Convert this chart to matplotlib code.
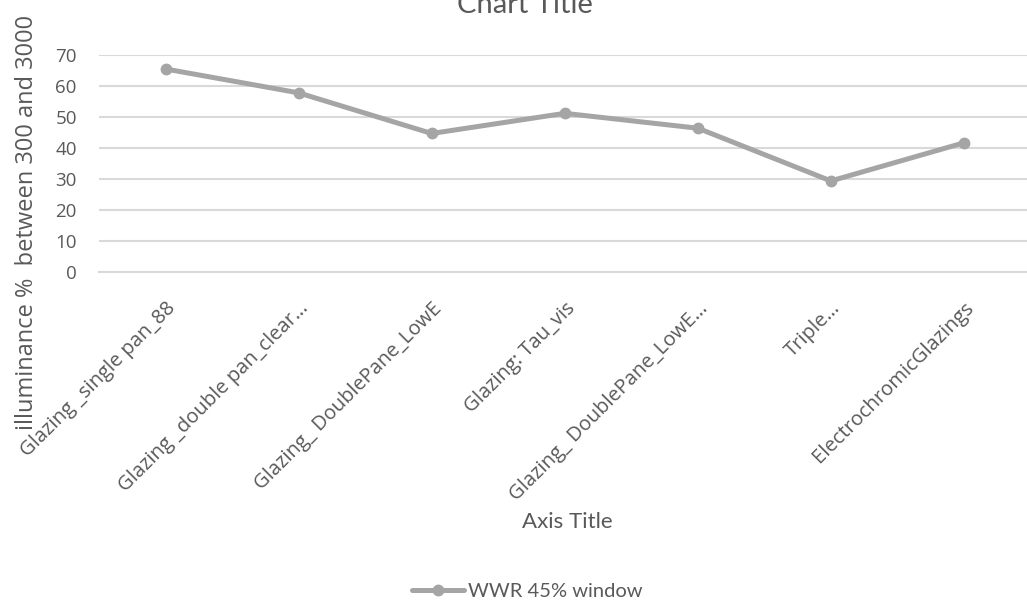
import matplotlib.pyplot as plt

# chart data
categories = ['Glazing _single pan_88', 'Glazing _double pan_clear…', 'Glazing_ DoublePane_LowE',
              'Glazing: Tau_vis', 'Glazing_ DoublePane_LowE…', 'Triple…', 'ElectrochromicGlazings']
wwr45 = [65.5, 57.8, 44.7, 51.2, 46.4, 29.4, 41.7]
yTicks = [0, 10, 20, 30, 40, 50, 60, 70]

seriesName = 'WWR 45% window'
lineColor = '#A5A5A5'
gridColor = '#D9D9D9'
textColor = '#595959'
tickFont = ['Open Sans', 'DejaVu Sans']
excelFont = ['Lato', 'DejaVu Sans']

fig = plt.figure(figsize=(10.27, 6.02), dpi=100, facecolor='white')
ax = fig.add_axes([0.0964, 0.548, 0.907, 0.3606])

xPos = list(range(len(categories)))
ax.plot(xPos, wwr45, color=lineColor, linewidth=3.6, marker='o', markersize=7.5,
        solid_capstyle='round', label=seriesName, zorder=3)

ax.set_xlim(-0.5, len(categories) - 0.5)
ax.set_ylim(yTicks[0], yTicks[-1])
ax.set_yticks(yTicks)
ax.set_yticklabels([str(t) for t in yTicks], family=tickFont, fontsize=13.5, color=textColor)
ax.set_xticks(xPos)
ax.set_xticklabels(categories, family=tickFont, fontsize=14.5, color=textColor,
                   rotation=45, ha='right', rotation_mode='anchor')

ax.tick_params(axis='both', length=0)
ax.tick_params(axis='y', pad=16)
ax.tick_params(axis='x', pad=19)
ax.grid(axis='y', color=gridColor, linewidth=1.5)
ax.set_axisbelow(True)
for side in ['top', 'right', 'left']:
    ax.spines[side].set_visible(False)
ax.spines['bottom'].set_color(gridColor)
ax.spines['bottom'].set_linewidth(1.5)

# titles (chart title is cut off at the top edge, as in the source)
fig.text(0.511, 1 - 13 / 602, 'Chart Title', family=excelFont, fontsize=21,
         color=textColor, ha='center', va='baseline')
fig.text(27 / 1027, 1 - 222 / 602, 'illuminance %  between 300 and 3000', family=tickFont,
         fontsize=17, color=textColor, rotation=90, ha='center', va='center')
fig.text(567 / 1027, 1 - 522 / 602, 'Axis Title', family=excelFont, fontsize=16,
         color=textColor, ha='center', va='center')

fig.legend(loc='center', bbox_to_anchor=(527 / 1027, 1 - 591 / 602), frameon=False,
           prop={'family': excelFont, 'size': 14.5}, labelcolor=textColor,
           handlelength=2.6, handletextpad=0.2)

fig.savefig('out.png', dpi=100, facecolor='white')
